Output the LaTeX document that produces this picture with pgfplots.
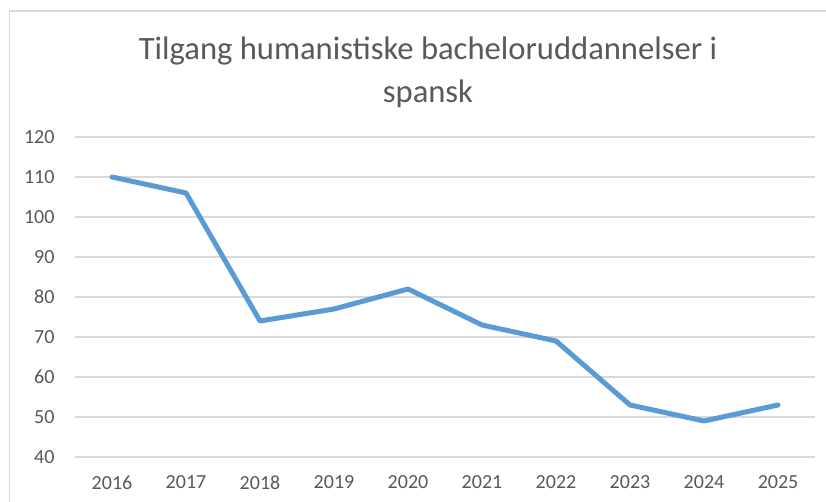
\documentclass[border=0pt]{standalone}
\usepackage{pgfplots}
\pgfplotsset{compat=1.18}
\usepackage{fontspec}
\setmainfont{Carlito}
\definecolor{txt}{HTML}{595959}
\definecolor{gridc}{HTML}{D9D9D9}
\definecolor{linec}{HTML}{5B9BD5}
\begin{document}
\begin{tikzpicture}[x=1bp,y=1bp]
\useasboundingbox (0,0) rectangle (826,502);
\fill[white] (0,0) rectangle (826,502);
\draw[gridc, line width=1.5bp] (9.5,0) -- (9.5,491) -- (826,491);
\node[text=txt, font=\fontsize{32.6bp}{43bp}\selectfont, align=center] at (428,430) {Tilgang humanistiske bacheloruddannelser i\\spansk};
\begin{axis}[
  at={(75bp,45bp)}, anchor=south west,
  scale only axis, width=740bp, height=320bp,
  xmin=-0.5, xmax=9.5, ymin=40, ymax=120,
  xtick={0,...,9},
  xticklabels={2016,2017,2018,2019,2020,2021,2022,2023,2024,2025},
  ytick={40,50,...,120},
  axis line style={draw=none},
  major tick length=0pt,
  xmajorgrids=false, ymajorgrids=true,
  grid style={draw=gridc, line width=1.3bp},
  tick label style={text=txt, font=\fontsize{20bp}{24bp}\selectfont},
  /pgf/number format/assume math mode=true,
  xticklabel style={yshift=-15bp},
  yticklabel style={xshift=-17bp},
  clip=false,
]
\addplot[draw=linec, line width=5bp, line join=round, line cap=round] coordinates {
(0,110) (1,106) (2,74) (3,77) (4,82) (5,73) (6,69) (7,53) (8,49) (9,53)
};
\end{axis}
\end{tikzpicture}
\end{document}
